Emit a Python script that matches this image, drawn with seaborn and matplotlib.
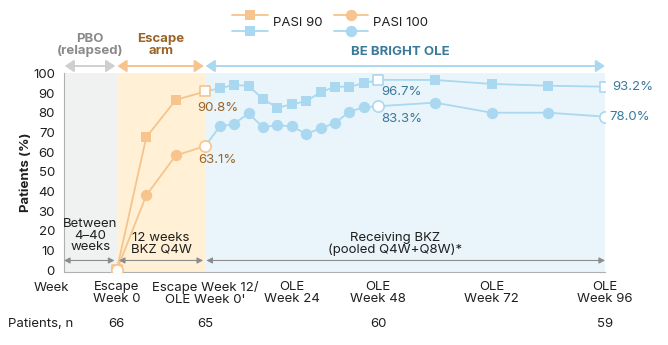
import numpy as np
import pandas as pd
import matplotlib
matplotlib.use("Agg")
import matplotlib.pyplot as plt
import seaborn as sns
from matplotlib.lines import Line2D

# ---------------- data ----------------
esc_weeks = [0, 4, 8, 12]
esc_pasi90 = [0.0, 67.5, 86.5, 90.8]
esc_pasi100 = [0.0, 38.0, 58.3, 63.1]

ole_weeks = [0, 4, 8, 12, 16, 20, 24, 28, 32, 36, 40, 44, 48, 60, 72, 84, 96]
ole_pasi90 = [90.8, 92.4, 94.1, 93.6, 87.0, 82.5, 84.3, 85.8, 90.4, 93.2,
              93.2, 94.9, 96.7, 96.6, 94.6, 93.7, 93.2]
ole_pasi100 = [63.1, 73.0, 74.3, 79.7, 72.6, 73.8, 73.0, 69.3, 72.0, 74.8,
               80.5, 82.8, 83.3, 85.1, 80.0, 80.0, 78.0]

tick_labels = ["Escape\nWeek 0", "Escape Week 12/\nOLE Week 0'", "OLE\nWeek 24",
               "OLE\nWeek 48", "OLE\nWeek 72", "OLE\nWeek 96"]
tick_ole_weeks = [None, 0, 24, 48, 72, 96]
n_values = ["66", "65", "60", "59"]
n_ole_weeks = [None, 0, 48, 96]

# ---------------- style ----------------
sns.set_theme(style="white")
plt.rcParams["font.family"] = ["Inter", "DejaVu Sans"]
plt.rcParams["font.size"] = 9.5

ORANGE = "#f6c48c"
BLUE = "#a9d8f0"
BROWN = "#9a6428"
TEAL = "#3a7a98"
GRAYTXT = "#8a8a8a"
DARK = "#1f1f1f"

ESC_LEN = 12
def tl_esc(w):
    return w
def tl_ole(w):
    return ESC_LEN + w

PBO_LEFT = -7.14
T_BP = [-200, PBO_LEFT, 0, 12, 60, 108, 300]
U_BP = [64 - 192.86 * 7.38, 64, 116.7, 205.3, 378.3, 605, 605 + 192 * 4.72]

def fwd(t):
    return np.interp(t, T_BP, U_BP)

def inv(u):
    return np.interp(u, U_BP, T_BP)

W, H = 668, 345
fig = plt.figure(figsize=(W / 100, H / 100), dpi=100)
ax_l, ax_r, ax_t, ax_b = 64, 605, 73.3, 272.3
ax = fig.add_axes([ax_l / W, 1 - ax_b / H, (ax_r - ax_l) / W, (ax_b - ax_t) / H])
ax.set_xscale("function", functions=(fwd, inv))
x_end = tl_ole(ole_weeks[-1])
ax.set_xlim(PBO_LEFT, x_end)
ax.set_ylim(-1, 100)

# background regions
ax.axvspan(PBO_LEFT, tl_esc(0), color="#f0f2f2", lw=0, zorder=0)
ax.axvspan(tl_esc(0), tl_ole(0), color="#fff0d6", lw=0, zorder=0)
ax.axvspan(tl_ole(0), x_end, color="#eaf5fb", lw=0, zorder=0)

esc = pd.DataFrame({"t": [tl_esc(w) for w in esc_weeks], "p90": esc_pasi90, "p100": esc_pasi100})
ole = pd.DataFrame({"t": [tl_ole(w) for w in ole_weeks], "p90": ole_pasi90, "p100": ole_pasi100})

MS = 7.6
# OLE series (first point hidden, drawn open in orange)
ole_marks = [i for i in range(1, len(ole)) if i not in (12, len(ole) - 1)]
sns.lineplot(data=ole, x="t", y="p90", color=BLUE, lw=1.3, marker="s", markersize=MS,
             markeredgewidth=0, markevery=ole_marks, ax=ax, legend=False, zorder=3)
sns.lineplot(data=ole, x="t", y="p100", color=BLUE, lw=1.3, marker="o", markersize=MS + 0.6,
             markeredgewidth=0, markevery=ole_marks, ax=ax, legend=False, zorder=3)
esc_marks = [1, 2]
sns.lineplot(data=esc, x="t", y="p90", color=ORANGE, lw=1.3, marker="s", markersize=MS,
             markeredgewidth=0, markevery=esc_marks, ax=ax, legend=False, zorder=3)
sns.lineplot(data=esc, x="t", y="p100", color=ORANGE, lw=1.3, marker="o", markersize=MS + 0.6,
             markeredgewidth=0, markevery=esc_marks, ax=ax, legend=False, zorder=3)

# open markers
open_esc = esc.iloc[[0, 3]]
open_ole = ole.iloc[[12, len(ole) - 1]]
for d, c in ((open_esc, ORANGE), (open_ole, BLUE)):
    sns.scatterplot(data=d, x="t", y="p90", marker="s", s=62, color="white",
                    edgecolor=c, linewidth=1.2, ax=ax, legend=False, zorder=5)
    sns.scatterplot(data=d, x="t", y="p100", marker="o", s=66, color="white",
                    edgecolor=c, linewidth=1.2, ax=ax, legend=False, zorder=5)

# value labels
def lab(x, y, txt, dx, dy, color, ha="center"):
    ax.annotate(txt, (x, y), xytext=(dx, dy), textcoords="offset points",
                ha=ha, va="center", color=color, fontsize=9.5, zorder=6)

lab(tl_ole(0), esc_pasi90[-1], f"{esc_pasi90[-1]:.1f}%", 9, -12, BROWN)
lab(tl_ole(0), esc_pasi100[-1], f"{esc_pasi100[-1]:.1f}%", 9, -10, BROWN)
lab(tl_ole(48), ole_pasi90[12], f"{ole_pasi90[12]:.1f}%", 17, -9, TEAL)
lab(tl_ole(48), ole_pasi100[12], f"{ole_pasi100[12]:.1f}%", 17, -9, TEAL)
lab(tl_ole(96), ole_pasi90[-1], f"{ole_pasi90[-1]:.1f}%", 5, 0, TEAL, ha="left")
lab(tl_ole(96), ole_pasi100[-1], f"{ole_pasi100[-1]:.1f}%", 3.5, 0, TEAL, ha="left")

# period arrows inside axes (y = 5)
def darrow(x0, x1, y, color, trans, lw=0.9, hl=0.35, hw=0.18, ms=10):
    ax.annotate("", xy=(x1, y), xytext=(x0, y), xycoords=trans, textcoords=trans,
                arrowprops=dict(arrowstyle=f"<|-|>,head_length={hl},head_width={hw}",
                                color=color, lw=lw, shrinkA=0, shrinkB=0,
                                mutation_scale=ms), annotation_clip=False, zorder=4)

darrow(PBO_LEFT, tl_esc(0) - 0.3, 5, "#8c8c8c", "data", lw=0.8)
darrow(tl_esc(0) + 0.3, tl_ole(0) - 0.3, 5, "#8c8c8c", "data", lw=0.8)
darrow(tl_ole(0) + 0.3, x_end, 5, "#8c8c8c", "data", lw=0.8)

ax.text(-3.57, 17.5, "Between\n4\u201340\nweeks", ha="center", va="center",
        fontsize=9.5, color=DARK, linespacing=0.95, zorder=6)
ax.text(6, 13.5, "12 weeks\nBKZ Q4W", ha="center", va="center",
        fontsize=9.5, color=DARK, linespacing=0.95, zorder=6)
ax.text(tl_ole(48) + 3.5, 13.5, "Receiving BKZ\n(pooled Q4W+Q8W)*", ha="center", va="center",
        fontsize=9.5, color=DARK, linespacing=0.95, zorder=6)

# top period arrows and titles
xt = ax.get_xaxis_transform()
ytop = (ax_b - 66) / (ax_b - ax_t)
darrow(PBO_LEFT + 0.1, tl_esc(0) - 0.2, ytop, "#cfcfcf", xt, lw=1.4, hl=0.6, hw=0.4, ms=9)
darrow(tl_esc(0) + 0.1, tl_ole(0) - 0.2, ytop, ORANGE, xt, lw=1.4, hl=0.6, hw=0.4, ms=9)
darrow(tl_ole(0) + 0.1, x_end, ytop, BLUE, xt, lw=1.4, hl=0.6, hw=0.4, ms=9)

yhead = (ax_b - 45) / (ax_b - ax_t)
ax.text(-3.57, yhead, "PBO\n(relapsed)", transform=xt, ha="center", va="center",
        color=GRAYTXT, fontweight="bold", fontsize=9.5, linespacing=0.95)
ax.text(6, yhead, "Escape\narm", transform=xt, ha="center", va="center",
        color=BROWN, fontweight="bold", fontsize=9.5, linespacing=0.95)
ax.text((400 - ax_l) / (ax_r - ax_l), (ax_b - 52) / (ax_b - ax_t), "BE BRIGHT OLE",
        transform=ax.transAxes, ha="center", va="center", color=TEAL,
        fontweight="bold", fontsize=9.5)

# axes styling
for s in ("top", "right"):
    ax.spines[s].set_visible(False)
for s in ("left", "bottom"):
    ax.spines[s].set_color("#b0b0b0")
    ax.spines[s].set_linewidth(0.8)
ax.set_yticks(range(0, 101, 10))
major_t = [tl_esc(0) if w is None else tl_ole(w) for w in tick_ole_weeks]
ax.set_xticks(major_t)
ax.set_xticklabels(tick_labels)
minor_t = sorted(set([PBO_LEFT] + list(esc["t"]) + list(ole["t"])) - set(major_t))
ax.set_xticks(minor_t, minor=True)
ax.tick_params(axis="both", which="both", direction="out", length=4, width=0.7,
               color="#b0b0b0", labelcolor=DARK, labelsize=9.5, pad=2.5)
ax.tick_params(axis="x", which="minor", length=4)
for t in ax.get_xticklabels():
    t.set_linespacing(0.95)
ax.set_xlabel("")
ax.set_ylabel("")

fig.text(26 / W, 1 - 172 / H, "Patients (%)", rotation=90, ha="center", va="center",
         fontweight="bold", fontsize=9.5, color=DARK)
fig.text(51.5 / W, 1 - 288 / H, "Week", ha="center", va="center", fontsize=9.5, color=DARK)
fig.text(8 / W, 1 - 324 / H, "Patients, n", ha="left", va="center", fontsize=9.5, color=DARK)
yn = (ax_b - 324) / (ax_b - ax_t)
for w, n in zip(n_ole_weeks, n_values):
    ax.text(tl_esc(0) if w is None else tl_ole(w), yn, n, transform=xt,
            ha="center", va="center", fontsize=9.5, color=DARK)

# legend (drawn manually, stacked orange/blue handles)
def leg_handle(x0, x1, y, color, marker, ms):
    fy = 1 - y / H
    fig.add_artist(Line2D([x0 / W, x1 / W], [fy, fy], color=color, lw=1.3,
                          transform=fig.transFigure))
    fig.add_artist(Line2D([(x0 + x1) / 2 / W], [fy], color=color, marker=marker,
                          markersize=ms, markeredgewidth=0, transform=fig.transFigure))

leg_handle(232, 268, 15, ORANGE, "s", MS)
leg_handle(232, 268, 30.7, BLUE, "s", MS)
fig.text(273.3 / W, 1 - 22.5 / H, "PASI 90", ha="left", va="center", fontsize=9.5, color=DARK)
leg_handle(334, 368, 15, ORANGE, "o", MS + 0.6)
leg_handle(334, 368, 30.7, BLUE, "o", MS + 0.6)
fig.text(373.3 / W, 1 - 22.5 / H, "PASI 100", ha="left", va="center", fontsize=9.5, color=DARK)

fig.savefig("out.png", dpi=100)
